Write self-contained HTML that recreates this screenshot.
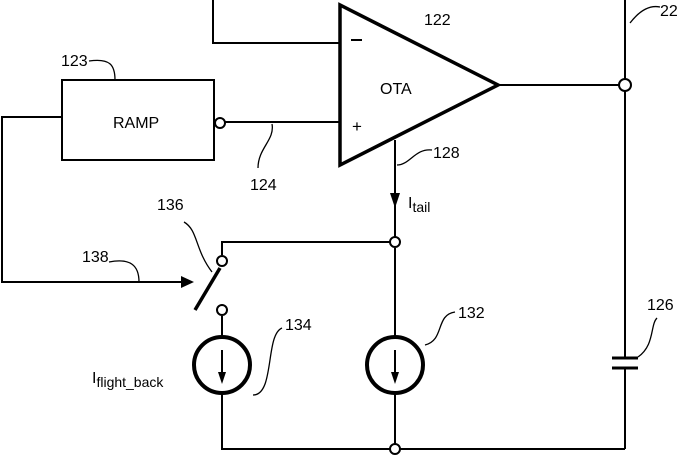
<!DOCTYPE html>
<html><head><style>
body{margin:0;background:#fff}
svg text{font-family:"Liberation Sans",sans-serif;fill:#000}
</style></head><body>
<svg width="681" height="455" viewBox="0 0 681 455" xmlns="http://www.w3.org/2000/svg">
<g fill="none" stroke="#000" stroke-width="2">
<polyline points="213,0 213,43 340,43"/>
<polygon points="340,5 340,165 498,85" stroke-width="3.5"/>
<line x1="498" y1="85" x2="619" y2="85"/>
<line x1="625" y1="0" x2="625" y2="79"/>
<line x1="625" y1="91" x2="625" y2="358"/>
<line x1="625" y1="368" x2="625" y2="449"/>
<line x1="612" y1="358" x2="638" y2="358" stroke-width="3"/>
<line x1="612" y1="368" x2="638" y2="368" stroke-width="3"/>
<rect x="62" y="80" width="152" height="80"/>
<line x1="225" y1="122" x2="340" y2="122"/>
<polyline points="62,117 2,117 2,282 192,282"/>
<line x1="395" y1="140" x2="395" y2="237"/>
<line x1="395" y1="248" x2="395" y2="337"/>
<line x1="395" y1="393" x2="395" y2="444"/>
<polyline points="395,242 222,242 222,255"/>
<line x1="222" y1="316" x2="222" y2="337"/>
<polyline points="222,393 222,449 390,449"/>
<polyline points="400,449 625,449"/>
<line x1="195" y1="310" x2="220" y2="268" stroke-width="3.5"/>
<circle cx="625" cy="85" r="6" fill="#fff"/>
<circle cx="220" cy="123" r="5" fill="#fff"/>
<circle cx="395" cy="242" r="5" fill="#fff"/>
<circle cx="222" cy="261" r="5" fill="#fff"/>
<circle cx="222" cy="310" r="5" fill="#fff"/>
<circle cx="395" cy="449" r="5" fill="#fff"/>
<circle cx="222" cy="365" r="28" stroke-width="4"/>
<circle cx="395" cy="365" r="28" stroke-width="4"/>
<line x1="222" y1="350" x2="222" y2="380"/>
<line x1="395" y1="350" x2="395" y2="380"/>
<line x1="351" y1="40" x2="362" y2="40"/>
<g stroke-width="1.3">
<path d="M630,23 C640,10 650,5 660,7"/>
<path d="M89,61 C110,58 115,65 115,80"/>
<path d="M272,124 C275,140 258,148 258,168"/>
<path d="M397,165 C410,165 415,148 432,150"/>
<path d="M184,222 C198,230 195,250 212,272"/>
<path d="M109,262 C130,258 139,265 139,282"/>
<path d="M253,395 C275,395 265,335 282,328"/>
<path d="M425,345 C445,340 435,315 455,312"/>
<path d="M638,357 C655,345 650,325 657,318"/>
</g>
</g>
<g fill="#000">
<polygon points="390,193 400,193 395,208"/>
<polygon points="181,276 194,282 181,288"/>
<polygon points="218,372 226,372 222,384"/>
<polygon points="391,372 399,372 395,384"/>
</g>
<g font-size="16">
<text x="380" y="94">OTA</text>
<text x="113" y="128">RAMP</text>
<text x="352" y="132" font-size="17">+</text>
<text x="424" y="25">122</text>
<text x="660" y="16">22</text>
<text x="61" y="66">123</text>
<text x="250" y="190">124</text>
<text x="433" y="158">128</text>
<text x="408" y="208">I<tspan font-size="14" dy="4">tail</tspan></text>
<text x="157" y="210">136</text>
<text x="82" y="262">138</text>
<text x="285" y="330">134</text>
<text x="458" y="318">132</text>
<text x="647" y="310">126</text>
<text x="92" y="383">I<tspan font-size="14" dy="4">flight_back</tspan></text>
</g>
</svg>
</body></html>
